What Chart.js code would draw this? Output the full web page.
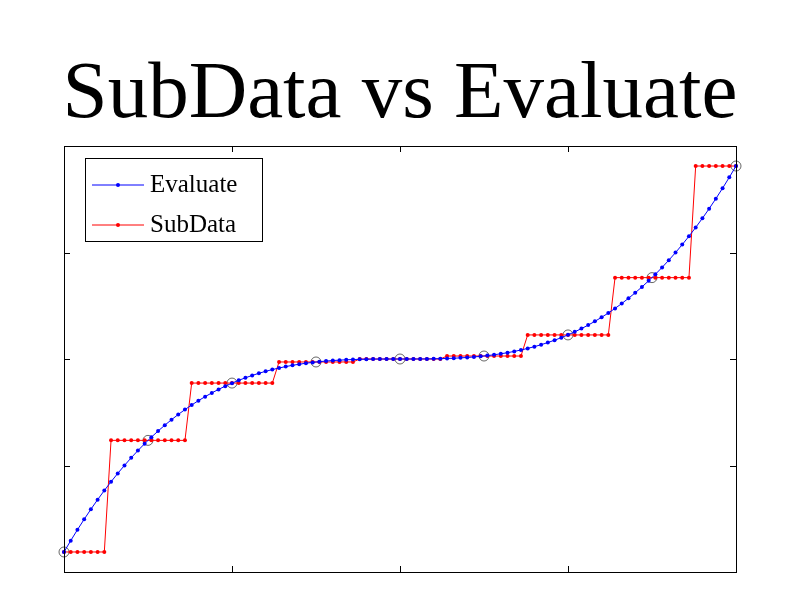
<!DOCTYPE html>
<html>
<head>
<script src="https://cdn.jsdelivr.net/npm/chart.js@4"></script>
<style>body{margin:0;background:#fff}</style>
</head>
<body>
<canvas id="c" width="800" height="600"></canvas>
<script>
// sample positions -1..1 in steps of 0.02
var sampleX = [];
for (var i = 0; i <= 100; i++) sampleX.push(-1 + i / 50);

var evaluateY = [
  -0.9060, -0.8527, -0.8016, -0.7525, -0.7055, -0.6605, -0.6174, -0.5763, -0.5370, -0.4995,
  -0.4639, -0.4299, -0.3977, -0.3671, -0.3382, -0.3108, -0.2849, -0.2605, -0.2375, -0.2159,
  -0.1957, -0.1768, -0.1591, -0.1427, -0.1274, -0.1133, -0.1002, -0.0882, -0.0772, -0.0671,
  -0.0580, -0.0497, -0.0423, -0.0356, -0.0297, -0.0245, -0.0199, -0.0159, -0.0125, -0.0096,
  -0.0072, -0.0053, -0.0037, -0.0025, -0.0016, -0.0009, -0.0005, -0.0002, -0.0001, 0.0000,
  0.0000,
  0.0000, 0.0001, 0.0002, 0.0005, 0.0009, 0.0016, 0.0025, 0.0037, 0.0053, 0.0072,
  0.0096, 0.0125, 0.0159, 0.0199, 0.0245, 0.0297, 0.0356, 0.0423, 0.0497, 0.0580,
  0.0671, 0.0772, 0.0882, 0.1002, 0.1133, 0.1274, 0.1427, 0.1591, 0.1768, 0.1957,
  0.2159, 0.2375, 0.2605, 0.2849, 0.3108, 0.3382, 0.3671, 0.3977, 0.4299, 0.4639,
  0.4995, 0.5370, 0.5763, 0.6174, 0.6605, 0.7055, 0.7525, 0.8016, 0.8527, 0.9060
];

// sub data knots
var knotX = [-1, -0.75, -0.5, -0.25, 0, 0.25, 0.5, 0.75, 1];
var knotY = [-0.906, -0.382, -0.113, -0.014, 0, 0.014, 0.113, 0.382, 0.906];
// how many samples take each knot's value
var knotRun = [7, 12, 13, 12, 13, 12, 13, 12, 7];

var subDataY = [];
knotRun.forEach(function (n, k) {
    for (var j = 0; j < n; j++) subDataY.push(knotY[k]);
});

function pts(xs, ys) {
    return xs.map(function (x, i) { return {x: x, y: ys[i]}; });
}

var tickVals = [-1, -0.5, 0, 0.5, 1];

var framePlugin = {
    id: 'frame',
    afterDraw: function (chart) {
        var ctx = chart.ctx, a = chart.chartArea;
        var sx = chart.scales.x, sy = chart.scales.y;
        ctx.save();
        ctx.fillStyle = '#000';
        ctx.font = '81px "Liberation Serif", serif';
        ctx.textAlign = 'center';
        ctx.textBaseline = 'alphabetic';
        ctx.fillText('SubData vs Evaluate', 400, 117);

        ctx.strokeStyle = '#000';
        ctx.lineWidth = 1;
        ctx.strokeRect(a.left + 0.5, a.top + 0.5, a.right - a.left, a.bottom - a.top);
        ctx.beginPath();
        tickVals.forEach(function (v) {
            var px = Math.round(sx.getPixelForValue(v)) + 0.5;
            ctx.moveTo(px, a.bottom); ctx.lineTo(px, a.bottom - 6);
            ctx.moveTo(px, a.top); ctx.lineTo(px, a.top + 6);
            var py = Math.round(sy.getPixelForValue(v)) + 0.5;
            ctx.moveTo(a.left, py); ctx.lineTo(a.left + 6, py);
            ctx.moveTo(a.right, py); ctx.lineTo(a.right - 6, py);
        });
        ctx.stroke();

        // legend
        ctx.fillStyle = '#fff';
        ctx.fillRect(85, 158, 177, 83);
        ctx.strokeRect(85.5, 158.5, 177, 83);
        var items = [['Evaluate', '#0000ff', 185], ['SubData', '#ff0000', 225]];
        ctx.font = '25px "Liberation Serif", serif';
        ctx.textAlign = 'left';
        ctx.textBaseline = 'middle';
        items.forEach(function (it) {
            ctx.strokeStyle = it[1];
            ctx.fillStyle = it[1];
            ctx.beginPath();
            ctx.moveTo(92, it[2]); ctx.lineTo(144, it[2]);
            ctx.stroke();
            ctx.beginPath();
            ctx.arc(118, it[2], 2, 0, Math.PI * 2);
            ctx.fill();
            ctx.fillStyle = '#000';
            ctx.fillText(it[0], 150, it[2]);
        });
        ctx.restore();
    }
};

new Chart(document.getElementById('c'), {
    type: 'scatter',
    data: {
        datasets: [{
            label: 'Evaluate',
            data: pts(sampleX, evaluateY),
            showLine: true,
            borderColor: '#0000ff',
            backgroundColor: '#0000ff',
            borderWidth: 1,
            pointRadius: 2,
            pointBorderWidth: 0,
            clip: false
        }, {
            label: 'SubData',
            data: pts(sampleX, subDataY),
            showLine: true,
            borderColor: '#ff0000',
            backgroundColor: '#ff0000',
            borderWidth: 1,
            pointRadius: 2,
            pointBorderWidth: 0,
            clip: false
        }, {
            label: 'knots',
            data: pts(knotX, knotY),
            showLine: false,
            borderColor: '#000',
            backgroundColor: 'rgba(0,0,0,0)',
            borderWidth: 0.6,
            pointRadius: 5,
            clip: false
        }]
    },
    options: {
        responsive: false,
        animation: false,
        layout: {padding: {left: 64, right: 64, top: 146, bottom: 28}},
        plugins: {legend: {display: false}, tooltip: {enabled: false}},
        scales: {
            x: {type: 'linear', min: -1, max: 1, display: false},
            y: {type: 'linear', min: -1, max: 1, display: false}
        }
    },
    plugins: [framePlugin]
});
</script>
</body>
</html>
